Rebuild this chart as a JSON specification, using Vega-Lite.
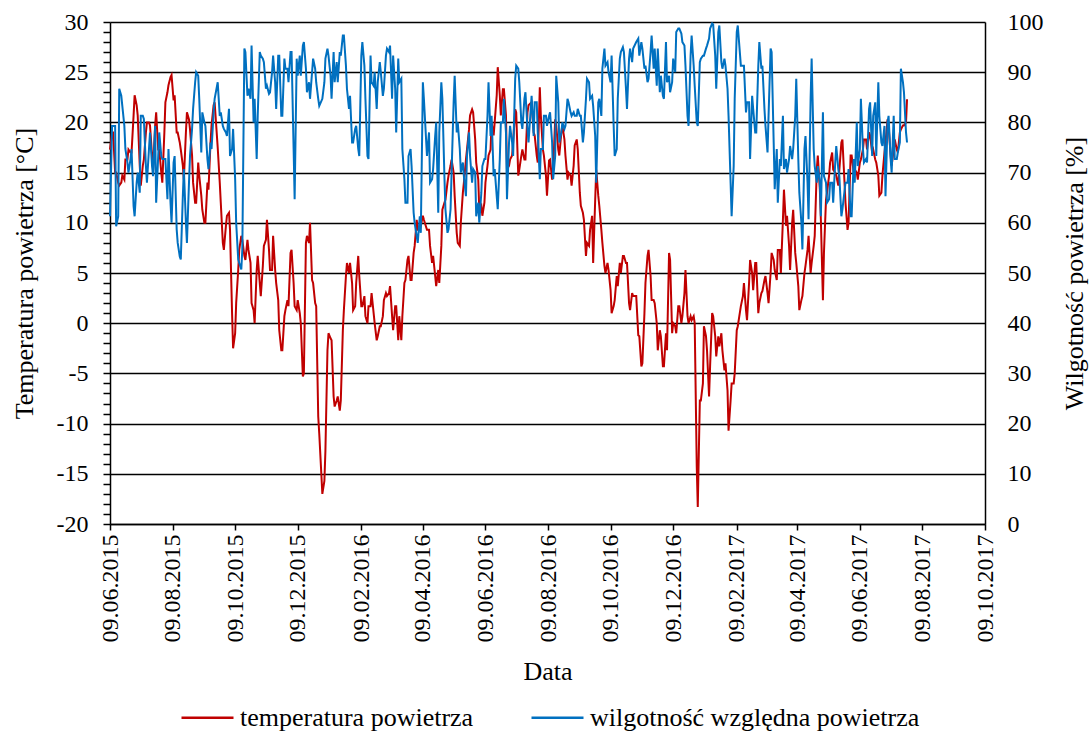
{
  "$schema": "https://vega.github.io/schema/vega-lite/v6.json",
  "width": 875,
  "height": 502,
  "autosize": {"type": "none"},
  "padding": {"left": 110, "top": 22, "right": 105, "bottom": 209},
  "background": "white",
  "config": {
    "font": "Liberation Serif",
    "view": {"stroke": null},
    "style": {
      "guide-label": {"font": "Liberation Serif", "fill": "black"},
      "guide-title": {"font": "Liberation Serif", "fill": "black"}
    },
    "axis": {
      "labelFont": "Liberation Serif",
      "titleFont": "Liberation Serif",
      "labelColor": "black",
      "titleColor": "black",
      "domainColor": "black",
      "tickColor": "black",
      "titleFontWeight": "normal",
      "labelFontSize": 24,
      "titleFontSize": 26,
      "domainWidth": 1.5,
      "tickWidth": 1.5
    },
    "legend": {"labelFont": "Liberation Serif", "padding": 0}
  },
  "data": {
    "values": [
      {"d":"2015-06-09","t":17.3,"h":61.3},{"d":"2015-06-12","t":19,"h":79.3},{"d":"2015-06-15","t":15,"h":59.3},{"d":"2015-06-18","t":13.7,"h":86.7},{"d":"2015-06-21","t":14.7,"h":83.3},{"d":"2015-06-24","t":16.3,"h":74.7},{"d":"2015-06-27","t":17.3,"h":70},{"d":"2015-06-30","t":17,"h":74.7},
      {"d":"2015-07-03","t":22.7,"h":61.3},{"d":"2015-07-06","t":20.7,"h":70},{"d":"2015-07-09","t":13.7,"h":81.3},{"d":"2015-07-12","t":16.3,"h":80.7},{"d":"2015-07-15","t":20,"h":68},{"d":"2015-07-18","t":19.7,"h":78},{"d":"2015-07-21","t":15.3,"h":69.3},{"d":"2015-07-24","t":21,"h":64},{"d":"2015-07-27","t":17.3,"h":78},{"d":"2015-07-30","t":14,"h":72.7},
      {"d":"2015-08-02","t":22,"h":72.7},{"d":"2015-08-05","t":23.7,"h":74.7},{"d":"2015-08-08","t":24.7,"h":60},{"d":"2015-08-11","t":22.7,"h":73.3},{"d":"2015-08-14","t":19,"h":56},{"d":"2015-08-17","t":17.3,"h":52.7},{"d":"2015-08-20","t":14.3,"h":70.7},{"d":"2015-08-23","t":21,"h":56},{"d":"2015-08-26","t":19.3,"h":73.3},{"d":"2015-08-29","t":14,"h":82.7},
      {"d":"2015-09-01","t":12,"h":90},{"d":"2015-09-04","t":14.7,"h":84.7},{"d":"2015-09-07","t":11.3,"h":82},{"d":"2015-09-10","t":10,"h":79.3},{"d":"2015-09-13","t":13.3,"h":70.7},{"d":"2015-09-16","t":19.7,"h":74.7},{"d":"2015-09-19","t":22,"h":84.7},{"d":"2015-09-22","t":17.5,"h":88},{"d":"2015-09-25","t":12,"h":82},{"d":"2015-09-28","t":7.3,"h":78.7},
      {"d":"2015-10-01","t":10.7,"h":77.3},{"d":"2015-10-04","t":9.3,"h":73.3},{"d":"2015-10-07","t":-2.5,"h":78.7},{"d":"2015-10-10","t":2,"h":60},{"d":"2015-10-13","t":7.3,"h":52},{"d":"2015-10-16","t":8.3,"h":54.7},{"d":"2015-10-19","t":6.3,"h":94},{"d":"2015-10-22","t":7.3,"h":86.7},{"d":"2015-10-25","t":2,"h":95.3},{"d":"2015-10-28","t":0,"h":84.7},{"d":"2015-10-31","t":6.7,"h":81.3},
      {"d":"2015-11-03","t":2.7,"h":93.3},{"d":"2015-11-06","t":7.7,"h":92},{"d":"2015-11-09","t":10.3,"h":87.3},{"d":"2015-11-12","t":5.3,"h":86},{"d":"2015-11-15","t":8.7,"h":93.3},{"d":"2015-11-18","t":4,"h":82.7},{"d":"2015-11-21","t":-0.7,"h":93.3},{"d":"2015-11-24","t":-2.7,"h":81.3},{"d":"2015-11-27","t":1.3,"h":90.7},{"d":"2015-11-30","t":1.7,"h":88},
      {"d":"2015-12-03","t":7.3,"h":94},{"d":"2015-12-06","t":1.7,"h":64.7},{"d":"2015-12-09","t":2.3,"h":89.3},{"d":"2015-12-12","t":0,"h":89.3},{"d":"2015-12-15","t":-5,"h":96},{"d":"2015-12-18","t":8.7,"h":86},{"d":"2015-12-21","t":10,"h":84.7},{"d":"2015-12-24","t":4,"h":92.7},{"d":"2015-12-27","t":1.7,"h":88},{"d":"2015-12-30","t":-11,"h":83.3},
      {"d":"2016-01-02","t":-17,"h":84.7},{"d":"2016-01-05","t":-12.7,"h":92.7},{"d":"2016-01-08","t":-1,"h":93.3},{"d":"2016-01-11","t":-1.7,"h":84.7},{"d":"2016-01-14","t":-8.3,"h":88},{"d":"2016-01-17","t":-7.3,"h":88},{"d":"2016-01-20","t":-7.7,"h":93.3},{"d":"2016-01-23","t":1.3,"h":97.3},{"d":"2016-01-26","t":6,"h":86.7},{"d":"2016-01-29","t":6,"h":85.3},
      {"d":"2016-02-01","t":1.3,"h":76},{"d":"2016-02-04","t":4,"h":79.3},{"d":"2016-02-07","t":4.7,"h":73.3},{"d":"2016-02-10","t":1.7,"h":96},{"d":"2016-02-13","t":0.7,"h":84.7},{"d":"2016-02-16","t":1.7,"h":72.7},{"d":"2016-02-19","t":3,"h":88},{"d":"2016-02-22","t":0,"h":90},{"d":"2016-02-25","t":-1.3,"h":88},{"d":"2016-02-28","t":-0.3,"h":90},
      {"d":"2016-03-02","t":2.3,"h":86.7},{"d":"2016-03-05","t":2.7,"h":94.7},{"d":"2016-03-08","t":3.7,"h":95.3},{"d":"2016-03-11","t":-0.7,"h":93.3},{"d":"2016-03-14","t":1.7,"h":78},{"d":"2016-03-17","t":0.7,"h":88},{"d":"2016-03-20","t":0.7,"h":74.7},{"d":"2016-03-23","t":4.3,"h":64},{"d":"2016-03-26","t":6.7,"h":73.3},{"d":"2016-03-29","t":4.3,"h":71.3},
      {"d":"2016-04-01","t":7.7,"h":60},{"d":"2016-04-04","t":9.3,"h":56},{"d":"2016-04-07","t":9.7,"h":58},{"d":"2016-04-10","t":10.3,"h":84.7},{"d":"2016-04-13","t":9.3,"h":73.3},{"d":"2016-04-16","t":7.7,"h":68},{"d":"2016-04-19","t":6.7,"h":70.7},{"d":"2016-04-22","t":3.7,"h":80},{"d":"2016-04-25","t":4,"h":78},{"d":"2016-04-28","t":11.3,"h":84.7},
      {"d":"2016-05-01","t":12.3,"h":62.7},{"d":"2016-05-04","t":14.7,"h":58.7},{"d":"2016-05-07","t":16.3,"h":70},{"d":"2016-05-10","t":12.7,"h":89.3},{"d":"2016-05-13","t":8,"h":80},{"d":"2016-05-16","t":10,"h":70},{"d":"2016-05-19","t":14,"h":69.3},{"d":"2016-05-22","t":17.3,"h":73.3},{"d":"2016-05-25","t":20.7,"h":73.3},{"d":"2016-05-28","t":21,"h":70.7},{"d":"2016-05-31","t":16,"h":61.3},
      {"d":"2016-06-03","t":11.3,"h":60},{"d":"2016-06-06","t":10.7,"h":71.3},{"d":"2016-06-09","t":14,"h":72.7},{"d":"2016-06-12","t":16.7,"h":88},{"d":"2016-06-15","t":20,"h":81.3},{"d":"2016-06-18","t":20,"h":70.7},{"d":"2016-06-21","t":25.5,"h":62.7},{"d":"2016-06-24","t":20.7,"h":80},{"d":"2016-06-27","t":23.3,"h":84.7},{"d":"2016-06-30","t":15.3,"h":64.7},
      {"d":"2016-07-03","t":16.3,"h":79.3},{"d":"2016-07-06","t":18,"h":73.3},{"d":"2016-07-09","t":21,"h":91.3},{"d":"2016-07-12","t":15.3,"h":88},{"d":"2016-07-15","t":17.3,"h":78.7},{"d":"2016-07-18","t":16.3,"h":86},{"d":"2016-07-21","t":21.7,"h":76},{"d":"2016-07-24","t":22,"h":85.3},{"d":"2016-07-27","t":18.7,"h":84},{"d":"2016-07-30","t":16,"h":78},
      {"d":"2016-08-02","t":20.7,"h":74.7},{"d":"2016-08-05","t":16.7,"h":81.3},{"d":"2016-08-08","t":12.7,"h":79.3},{"d":"2016-08-11","t":16.3,"h":82},{"d":"2016-08-14","t":15.3,"h":68.7},{"d":"2016-08-17","t":19.7,"h":89.3},{"d":"2016-08-20","t":16.7,"h":76},{"d":"2016-08-23","t":19.7,"h":80},{"d":"2016-08-26","t":16.7,"h":79.3},{"d":"2016-08-29","t":15,"h":84},
      {"d":"2016-09-01","t":13.7,"h":81.3},{"d":"2016-09-04","t":17.7,"h":81.3},{"d":"2016-09-07","t":17.3,"h":82.7},{"d":"2016-09-10","t":11.7,"h":81.3},{"d":"2016-09-13","t":10.3,"h":78},{"d":"2016-09-16","t":8,"h":88.7},{"d":"2016-09-19","t":9.3,"h":84.7},{"d":"2016-09-22","t":6,"h":83.3},{"d":"2016-09-25","t":15.3,"h":68},{"d":"2016-09-28","t":11.7,"h":84.7},
      {"d":"2016-10-01","t":8,"h":90.7},{"d":"2016-10-04","t":5,"h":91.3},{"d":"2016-10-07","t":5.3,"h":90},{"d":"2016-10-10","t":1,"h":93.3},{"d":"2016-10-13","t":2.3,"h":73.3},{"d":"2016-10-16","t":3.7,"h":84.7},{"d":"2016-10-19","t":5,"h":94},{"d":"2016-10-22","t":6.7,"h":94},{"d":"2016-10-25","t":6,"h":82.7},{"d":"2016-10-28","t":1.3,"h":94.7},{"d":"2016-10-31","t":2.7,"h":94.7},
      {"d":"2016-11-03","t":2.7,"h":96},{"d":"2016-11-06","t":-1.3,"h":93.3},{"d":"2016-11-09","t":-4,"h":94.7},{"d":"2016-11-12","t":4,"h":91.3},{"d":"2016-11-15","t":7.3,"h":88.7},{"d":"2016-11-18","t":2.3,"h":97.3},{"d":"2016-11-21","t":2,"h":94.7},{"d":"2016-11-24","t":-2.7,"h":94.7},{"d":"2016-11-27","t":-1.3,"h":89.3},{"d":"2016-11-30","t":-4.3,"h":84.7},
      {"d":"2016-12-03","t":-2.7,"h":88},{"d":"2016-12-06","t":6.3,"h":86},{"d":"2016-12-09","t":0,"h":92.7},{"d":"2016-12-12","t":-1,"h":98},{"d":"2016-12-15","t":1.7,"h":98.7},{"d":"2016-12-18","t":0.7,"h":96},{"d":"2016-12-21","t":5.3,"h":91.3},{"d":"2016-12-24","t":0,"h":79.3},{"d":"2016-12-27","t":0.3,"h":97.3},{"d":"2016-12-30","t":0,"h":87.3},
      {"d":"2017-01-02","t":-18.3,"h":79.3},{"d":"2017-01-05","t":-7.7,"h":92.7},{"d":"2017-01-08","t":-0.3,"h":93.3},{"d":"2017-01-11","t":-2.7,"h":95.3},{"d":"2017-01-14","t":-4.3,"h":98.7},{"d":"2017-01-17","t":0.7,"h":99.5},{"d":"2017-01-20","t":-3.3,"h":86.7},{"d":"2017-01-23","t":-2.3,"h":99.3},{"d":"2017-01-26","t":-2.7,"h":90.7},{"d":"2017-01-29","t":-4,"h":91.3},
      {"d":"2017-02-01","t":-10.7,"h":81.3},{"d":"2017-02-04","t":-6,"h":61.3},{"d":"2017-02-07","t":-5,"h":84.7},{"d":"2017-02-10","t":-0.3,"h":99.3},{"d":"2017-02-13","t":1.7,"h":91.3},{"d":"2017-02-16","t":4,"h":91.3},{"d":"2017-02-19","t":0.3,"h":84},{"d":"2017-02-22","t":6.3,"h":72.7},{"d":"2017-02-25","t":3.3,"h":82.7},{"d":"2017-02-28","t":6,"h":78},
      {"d":"2017-03-03","t":2,"h":96},{"d":"2017-03-06","t":3.2,"h":91.3},{"d":"2017-03-09","t":4.7,"h":79.3},{"d":"2017-03-12","t":2,"h":81.3},{"d":"2017-03-15","t":7,"h":94},{"d":"2017-03-18","t":5.3,"h":66.7},{"d":"2017-03-21","t":7.3,"h":64},{"d":"2017-03-24","t":5,"h":71.3},{"d":"2017-03-27","t":13.3,"h":70.7},{"d":"2017-03-30","t":10.7,"h":70},
      {"d":"2017-04-02","t":5.3,"h":75.3},{"d":"2017-04-05","t":11.3,"h":74.7},{"d":"2017-04-08","t":6,"h":88.7},{"d":"2017-04-11","t":1.3,"h":66},{"d":"2017-04-14","t":2.7,"h":54.7},{"d":"2017-04-17","t":5.7,"h":77.3},{"d":"2017-04-20","t":8.7,"h":60.7},{"d":"2017-04-23","t":6,"h":92.7},{"d":"2017-04-26","t":8.7,"h":71.3},{"d":"2017-04-29","t":16.7,"h":71.3},
      {"d":"2017-05-02","t":10.3,"h":61.3},{"d":"2017-05-05","t":7,"h":69.3},{"d":"2017-05-08","t":13,"h":64},{"d":"2017-05-11","t":16,"h":68},{"d":"2017-05-14","t":15.3,"h":64},{"d":"2017-05-17","t":14.7,"h":75.3},{"d":"2017-05-20","t":15.3,"h":69.3},{"d":"2017-05-23","t":18.3,"h":62.7},{"d":"2017-05-26","t":12,"h":68},{"d":"2017-05-29","t":10,"h":70.7},
      {"d":"2017-06-01","t":16.7,"h":61.3},{"d":"2017-06-04","t":15.3,"h":68},{"d":"2017-06-07","t":14.3,"h":71.3},{"d":"2017-06-10","t":16.3,"h":84.7},{"d":"2017-06-13","t":18.3,"h":72},{"d":"2017-06-16","t":17.3,"h":72},{"d":"2017-06-19","t":18.7,"h":84},{"d":"2017-06-22","t":17.3,"h":81.3},{"d":"2017-06-25","t":16,"h":73.3},{"d":"2017-06-28","t":12.7,"h":81.3},
      {"d":"2017-07-01","t":14.7,"h":75.3},{"d":"2017-07-04","t":18,"h":65.3},{"d":"2017-07-07","t":19.7,"h":81.3},{"d":"2017-07-10","t":15.7,"h":70},{"d":"2017-07-13","t":18.3,"h":72.7},{"d":"2017-07-16","t":17,"h":74},{"d":"2017-07-19","t":19.3,"h":90.7},{"d":"2017-07-22","t":19.7,"h":86},{"d":"2017-07-25","t":22.3,"h":76},

      {"d":"2015-06-11","t":19,"h":79.3},{"d":"2015-06-14","t":15,"h":79.3},{"d":"2015-06-17","t":14,"h":61.3},{"d":"2015-06-20","t":14,"h":85.3},{"d":"2015-06-23","t":14.3,"h":79.3},{"d":"2015-06-26","t":16.3,"h":72},{"d":"2015-06-29","t":17,"h":72.7},{"d":"2015-07-02","t":20.7,"h":63.3},{"d":"2015-07-05","t":21.7,"h":68},{"d":"2015-07-08","t":15.7,"h":66},{"d":"2015-07-11","t":15.7,"h":81.3},{"d":"2015-07-14","t":19,"h":71.3},{"d":"2015-07-17","t":20,"h":74.7},{"d":"2015-07-20","t":16.7,"h":71.3},{"d":"2015-07-23","t":19.7,"h":79.3},{"d":"2015-07-26","t":17.3,"h":73.3},{"d":"2015-07-29","t":15,"h":73.3},{"d":"2015-08-01","t":19,"h":72.7},{"d":"2015-08-04","t":23,"h":64.7},{"d":"2015-08-07","t":24.5,"h":64},{"d":"2015-08-10","t":22.2,"h":72},{"d":"2015-08-13","t":19,"h":58.7},{"d":"2015-08-16","t":18,"h":53.3},{"d":"2015-08-19","t":15.7,"h":65.3},{"d":"2015-08-22","t":19,"h":60},{"d":"2015-08-25","t":20.3,"h":68},{"d":"2015-08-28","t":16.7,"h":78.7},{"d":"2015-08-31","t":12,"h":88},{"d":"2015-09-03","t":16,"h":89.3},{"d":"2015-09-06","t":12.7,"h":74},{"d":"2015-09-09","t":10,"h":80},{"d":"2015-09-12","t":14,"h":72.7},{"d":"2015-09-15","t":18,"h":76},{"d":"2015-09-18","t":21.7,"h":82},
      {"d":"2015-09-24","t":14,"h":81.3},{"d":"2015-09-27","t":8,"h":79.3},{"d":"2015-09-30","t":9.7,"h":78},{"d":"2015-10-03","t":11,"h":82.7},{"d":"2015-10-06","t":1,"h":74.7},{"d":"2015-10-09","t":-1,"h":68.7},{"d":"2015-10-12","t":5.3,"h":52.7},{"d":"2015-10-15","t":8.7,"h":50.7},{"d":"2015-10-18","t":6.7,"h":94.7},{"d":"2015-10-21","t":8.3,"h":85.3},{"d":"2015-10-24","t":6,"h":84.7},{"d":"2015-10-27","t":1.3,"h":80},{"d":"2015-10-30","t":5.3,"h":72.7},{"d":"2015-11-02","t":4,"h":94},{"d":"2015-11-05","t":5.7,"h":92.7},{"d":"2015-11-08","t":8.3,"h":86.7},{"d":"2015-11-11","t":7.3,"h":85.7},{"d":"2015-11-14","t":5.3,"h":90},{"d":"2015-11-17","t":5.3,"h":88},{"d":"2015-11-20","t":2.3,"h":93.3},{"d":"2015-11-23","t":-2.7,"h":81.3},{"d":"2015-11-26","t":0.7,"h":92.7},{"d":"2015-11-29","t":2.3,"h":90.7},{"d":"2015-12-02","t":7,"h":94},{"d":"2015-12-05","t":4,"h":74.7},{"d":"2015-12-08","t":1.3,"h":92.7},{"d":"2015-12-11","t":1,"h":93.3},{"d":"2015-12-14","t":-5.3,"h":95.3},{"d":"2015-12-17","t":8,"h":90.7},{"d":"2015-12-20","t":8,"h":88},{"d":"2015-12-23","t":4.3,"h":90},{"d":"2015-12-26","t":2,"h":90.7},{"d":"2015-12-29","t":-9.3,"h":84.7},
      {"d":"2016-01-04","t":-15.7,"h":88},{"d":"2016-01-07","t":-2.7,"h":94.7},{"d":"2016-01-10","t":-1.5,"h":89.3},{"d":"2016-01-13","t":-7.3,"h":94},{"d":"2016-01-16","t":-7.7,"h":92},{"d":"2016-01-19","t":-8.7,"h":94},{"d":"2016-01-22","t":-0.7,"h":97.3},{"d":"2016-01-25","t":4.7,"h":91.3},{"d":"2016-01-28","t":5,"h":82.7},{"d":"2016-01-31","t":4,"h":76},{"d":"2016-02-03","t":1.7,"h":78.7},{"d":"2016-02-06","t":6.7,"h":74.7},{"d":"2016-02-09","t":1.7,"h":93.3},{"d":"2016-02-12","t":2.7,"h":91.3},{"d":"2016-02-15","t":0,"h":73.3},{"d":"2016-02-18","t":1.7,"h":93.3},{"d":"2016-02-21","t":1,"h":87.3},{"d":"2016-02-24","t":-1.7,"h":82.7},{"d":"2016-02-27","t":-0.3,"h":92},{"d":"2016-03-01","t":0.7,"h":85.3},{"d":"2016-03-04","t":3,"h":93.3},{"d":"2016-03-07","t":3,"h":94},{"d":"2016-03-10","t":0.7,"h":84.7},{"d":"2016-03-13","t":1.7,"h":86.7},{"d":"2016-03-16","t":-1.7,"h":92.7},{"d":"2016-03-19","t":-1.7,"h":88.7},{"d":"2016-03-22","t":4,"h":68.7},{"d":"2016-03-25","t":6.3,"h":64},{"d":"2016-03-28","t":4.3,"h":74.7},{"d":"2016-03-31","t":7,"h":62},{"d":"2016-04-03","t":10.3,"h":57.3},{"d":"2016-04-06","t":9.3,"h":61.3},{"d":"2016-04-09","t":10.7,"h":88},
      {"d":"2016-04-15","t":9.3,"h":78},{"d":"2016-04-18","t":6,"h":68.7},{"d":"2016-04-21","t":4.7,"h":77.3},{"d":"2016-04-24","t":5.3,"h":62},{"d":"2016-04-27","t":7.7,"h":88},{"d":"2016-04-30","t":12,"h":69.3},{"d":"2016-05-03","t":14,"h":58},{"d":"2016-05-06","t":15.7,"h":62.7},{"d":"2016-05-09","t":15,"h":84},{"d":"2016-05-12","t":9,"h":78},{"d":"2016-05-15","t":7.7,"h":74.7},{"d":"2016-05-18","t":13,"h":72},{"d":"2016-05-21","t":16.3,"h":65.3},{"d":"2016-05-24","t":19.3,"h":78},{"d":"2016-05-27","t":21.3,"h":68},{"d":"2016-05-30","t":18.3,"h":70},{"d":"2016-06-02","t":14.3,"h":64},{"d":"2016-06-05","t":11.7,"h":66},{"d":"2016-06-08","t":12,"h":72.7},{"d":"2016-06-11","t":15.7,"h":81.3},{"d":"2016-06-14","t":17.3,"h":77.3},{"d":"2016-06-17","t":18.7,"h":69.3},{"d":"2016-06-20","t":22.7,"h":65.3},{"d":"2016-06-23","t":22.7,"h":72.7},{"d":"2016-06-26","t":23.3,"h":80},{"d":"2016-06-29","t":20.7,"h":78},{"d":"2016-07-02","t":15.7,"h":76},{"d":"2016-07-05","t":16.7,"h":76},{"d":"2016-07-08","t":21.3,"h":88.7},{"d":"2016-07-11","t":14.7,"h":90.7},{"d":"2016-07-14","t":16.7,"h":80},{"d":"2016-07-17","t":16.3,"h":84.7},{"d":"2016-07-20","t":21,"h":78.7},
      {"d":"2016-07-26","t":19,"h":77.3},{"d":"2016-07-29","t":16.7,"h":84},{"d":"2016-08-01","t":23.5,"h":68.7},{"d":"2016-08-04","t":17.3,"h":74.7},{"d":"2016-08-07","t":14.7,"h":81.3},{"d":"2016-08-10","t":16.2,"h":81.3},{"d":"2016-08-13","t":14.3,"h":76},{"d":"2016-08-16","t":20.3,"h":73.3},{"d":"2016-08-19","t":17.3,"h":84},{"d":"2016-08-22","t":19,"h":78},{"d":"2016-08-25","t":18.3,"h":78.7},{"d":"2016-08-28","t":14.3,"h":84.7},{"d":"2016-08-31","t":14.7,"h":82},{"d":"2016-09-03","t":15.7,"h":82},{"d":"2016-09-06","t":18.3,"h":81.3},{"d":"2016-09-09","t":13,"h":81.3},{"d":"2016-09-12","t":11,"h":76},{"d":"2016-09-15","t":6.7,"h":84.7},{"d":"2016-09-18","t":7.7,"h":88},{"d":"2016-09-21","t":10.7,"h":85.3},{"d":"2016-09-24","t":12.3,"h":77.3},{"d":"2016-09-27","t":12.7,"h":84},{"d":"2016-09-30","t":9.3,"h":81.3},{"d":"2016-10-03","t":5.7,"h":94.7},{"d":"2016-10-06","t":6,"h":92},{"d":"2016-10-09","t":3.3,"h":88},{"d":"2016-10-12","t":1.7,"h":79.3},{"d":"2016-10-15","t":4.7,"h":74.7},{"d":"2016-10-18","t":6,"h":92.7},{"d":"2016-10-21","t":6.7,"h":95},{"d":"2016-10-24","t":6,"h":86.7},{"d":"2016-10-27","t":2,"h":92.7},{"d":"2016-10-30","t":3,"h":92},
      {"d":"2016-11-05","t":-1.2,"h":96.7},{"d":"2016-11-08","t":-4.3,"h":96},{"d":"2016-11-11","t":1,"h":90.7},{"d":"2016-11-14","t":6.7,"h":88},{"d":"2016-11-17","t":4.7,"h":94},{"d":"2016-11-20","t":2.3,"h":90.7},{"d":"2016-11-23","t":0,"h":87.3},{"d":"2016-11-26","t":-0.7,"h":86},{"d":"2016-11-29","t":-4.3,"h":85.3},{"d":"2016-12-02","t":-1,"h":96},{"d":"2016-12-05","t":7,"h":89.3},{"d":"2016-12-08","t":-1,"h":88},{"d":"2016-12-11","t":-0.3,"h":90},{"d":"2016-12-14","t":1.7,"h":98.7},{"d":"2016-12-17","t":0,"h":97.7},{"d":"2016-12-20","t":3,"h":95.3},{"d":"2016-12-23","t":0.7,"h":81.3},{"d":"2016-12-26","t":0.7,"h":93.3},{"d":"2016-12-29","t":0.7,"h":91.3},{"d":"2017-01-01","t":-14.3,"h":80},{"d":"2017-01-04","t":-7.7,"h":92},{"d":"2017-01-07","t":-6,"h":93.3},{"d":"2017-01-10","t":-1.3,"h":94.7},{"d":"2017-01-13","t":-7.3,"h":96.7},{"d":"2017-01-16","t":1,"h":99.7},{"d":"2017-01-19","t":-1.3,"h":93.3},{"d":"2017-01-22","t":-1.3,"h":98},{"d":"2017-01-25","t":-1,"h":92},{"d":"2017-01-28","t":-4.7,"h":92.7},{"d":"2017-01-31","t":-6.7,"h":86.7},{"d":"2017-02-03","t":-7.7,"h":68},{"d":"2017-02-06","t":-6,"h":71.3},{"d":"2017-02-09","t":-0.7,"h":98},
      {"d":"2017-02-15","t":2.7,"h":91.3},{"d":"2017-02-18","t":1.3,"h":82},{"d":"2017-02-21","t":4,"h":84},{"d":"2017-02-24","t":5,"h":85.3},{"d":"2017-02-27","t":6,"h":78},{"d":"2017-03-02","t":1,"h":91.3},{"d":"2017-03-05","t":3,"h":90.7},{"d":"2017-03-08","t":4.3,"h":82.7},{"d":"2017-03-11","t":3,"h":74},{"d":"2017-03-14","t":5,"h":94.7},{"d":"2017-03-17","t":6.3,"h":76},{"d":"2017-03-20","t":4.3,"h":74.7},{"d":"2017-03-23","t":7.3,"h":72.7},{"d":"2017-03-26","t":10.3,"h":81.3},{"d":"2017-03-29","t":9.7,"h":72.7},{"d":"2017-04-01","t":7.7,"h":72.7},{"d":"2017-04-04","t":10,"h":72.7},{"d":"2017-04-07","t":7,"h":81.3},{"d":"2017-04-10","t":3.7,"h":72.7},{"d":"2017-04-13","t":2.3,"h":60},{"d":"2017-04-16","t":5,"h":74.7},{"d":"2017-04-19","t":7.3,"h":68},{"d":"2017-04-22","t":5,"h":84.7},{"d":"2017-04-25","t":7.7,"h":74.7},{"d":"2017-04-28","t":15.3,"h":68},{"d":"2017-05-01","t":13.3,"h":68},{"d":"2017-05-04","t":2.3,"h":82},{"d":"2017-05-07","t":12.3,"h":68},{"d":"2017-05-10","t":14.7,"h":64.7},{"d":"2017-05-13","t":17,"h":68},{"d":"2017-05-16","t":15,"h":72},{"d":"2017-05-19","t":13.7,"h":70.7},{"d":"2017-05-22","t":18,"h":61.3},
      {"d":"2017-05-28","t":9.3,"h":68},{"d":"2017-05-31","t":16.7,"h":61.3},{"d":"2017-06-03","t":15,"h":72.7},{"d":"2017-06-06","t":15,"h":80},{"d":"2017-06-09","t":16,"h":74.7},{"d":"2017-06-12","t":17.3,"h":74.7},{"d":"2017-06-15","t":18.3,"h":72.7},{"d":"2017-06-18","t":19,"h":82.7},{"d":"2017-06-21","t":17,"h":73.3},{"d":"2017-06-24","t":16.3,"h":84},{"d":"2017-06-27","t":14.7,"h":88},{"d":"2017-06-30","t":13,"h":76},{"d":"2017-07-03","t":17,"h":79.3},{"d":"2017-07-06","t":20.3,"h":80},{"d":"2017-07-09","t":16.7,"h":72.7},{"d":"2017-07-12","t":17.3,"h":81.3},{"d":"2017-07-15","t":17.3,"h":72.7},{"d":"2017-07-18","t":19,"h":76},{"d":"2017-07-21","t":19.7,"h":88},{"d":"2017-07-24","t":20,"h":78}
    ]
  },
  "layer": [
    {
      "transform": [{"filter": {"field": "t", "valid": true}}],
      "mark": {"type": "line", "strokeWidth": 2, "color": "#C00000"},
      "encoding": {
        "x": {
          "field": "d",
          "type": "temporal",
          "scale": {"type": "utc", "domain": [{"year": 2015, "month": 6, "date": 9, "utc": true}, {"year": 2017, "month": 10, "date": 9, "utc": true}]},
          "axis": {
            "title": "Data",
            "values": [
              {"year":2015,"month":6,"date":9,"utc":true},{"year":2015,"month":7,"date":9,"utc":true},{"year":2015,"month":8,"date":9,"utc":true},{"year":2015,"month":9,"date":9,"utc":true},{"year":2015,"month":10,"date":9,"utc":true},{"year":2015,"month":11,"date":9,"utc":true},{"year":2015,"month":12,"date":9,"utc":true},
              {"year":2016,"month":1,"date":9,"utc":true},{"year":2016,"month":2,"date":9,"utc":true},{"year":2016,"month":3,"date":9,"utc":true},{"year":2016,"month":4,"date":9,"utc":true},{"year":2016,"month":5,"date":9,"utc":true},{"year":2016,"month":6,"date":9,"utc":true},{"year":2016,"month":7,"date":9,"utc":true},{"year":2016,"month":8,"date":9,"utc":true},{"year":2016,"month":9,"date":9,"utc":true},{"year":2016,"month":10,"date":9,"utc":true},{"year":2016,"month":11,"date":9,"utc":true},{"year":2016,"month":12,"date":9,"utc":true},
              {"year":2017,"month":1,"date":9,"utc":true},{"year":2017,"month":2,"date":9,"utc":true},{"year":2017,"month":3,"date":9,"utc":true},{"year":2017,"month":4,"date":9,"utc":true},{"year":2017,"month":5,"date":9,"utc":true},{"year":2017,"month":6,"date":9,"utc":true},{"year":2017,"month":7,"date":9,"utc":true},{"year":2017,"month":8,"date":9,"utc":true},{"year":2017,"month":9,"date":9,"utc":true},{"year":2017,"month":10,"date":9,"utc":true}
            ],
            "labelExpr": "utcmonth(datum.value) % 2 == 1 ? utcFormat(datum.value, '%d.%m.%Y') : ''",
            "labelFont": "Liberation Serif",
            "titleFont": "Liberation Serif",
            "labelAngle": 270,
            "labelAlign": "right",
            "labelBaseline": "middle",
            "labelPadding": 4,
            "labelOverlap": false,
            "labelFlush": false,
            "tickSize": 6,
            "grid": false,
            "titlePadding": 16
          }
        },
        "y": {
          "field": "t",
          "type": "quantitative",
          "scale": {"domain": [-20, 30], "nice": false, "zero": false},
          "axis": {
            "title": "Temperatura powietrza [°C]",
            "values": [-20,-19,-18,-17,-16,-15,-14,-13,-12,-11,-10,-9,-8,-7,-6,-5,-4,-3,-2,-1,0,1,2,3,4,5,6,7,8,9,10,11,12,13,14,15,16,17,18,19,20,21,22,23,24,25,26,27,28,29,30],
            "labelExpr": "datum.value % 5 === 0 ? '' + datum.value : ''",
            "labelFont": "Liberation Serif",
            "titleFont": "Liberation Serif",
            "labelOverlap": false,
            "labelFlush": false,
            "labelPadding": 15,
            "tickSize": 7,
            "grid": true,
            "gridColor": "black",
            "gridWidth": 1.5,
            "gridOpacity": {"condition": {"test": "datum.value % 5 === 0", "value": 1}, "value": 0},
            "titlePadding": 19
          }
        },
        "color": {
          "datum": "temperatura powietrza",
          "type": "nominal",
          "scale": {"domain": ["temperatura powietrza", "wilgotność względna powietrza"], "range": ["#C00000", "#0070C0"]},
          "legend": {
            "title": null,
            "orient": "none",
            "legendX": 70,
            "legendY": 668,
            "direction": "horizontal",
            "symbolType": "stroke",
            "symbolSize": 2704,
            "symbolStrokeWidth": 2.5,
            "labelFont": "Liberation Serif",
            "labelFontSize": 26,
            "labelColor": "black",
            "labelOffset": 5,
            "labelLimit": 0,
            "columnPadding": 52,
            "padding": 0
          }
        }
      }
    },
    {
      "transform": [{"filter": {"field": "h", "valid": true}}],
      "mark": {"type": "line", "strokeWidth": 2, "color": "#0070C0"},
      "encoding": {
        "x": {"field": "d", "type": "temporal"},
        "y": {
          "field": "h",
          "type": "quantitative",
          "scale": {"domain": [0, 100], "nice": false},
          "axis": {
            "orient": "right",
            "title": "Wilgotność powietrza [%]",
            "values": [0,10,20,30,40,50,60,70,80,90,100],
            "labelFont": "Liberation Serif",
            "titleFont": "Liberation Serif",
            "grid": false,
            "ticks": false,
            "tickSize": 0,
            "labelPadding": 22,
            "labelFlush": false,
            "labelOverlap": false,
            "titleAngle": 270,
            "titleBaseline": "top",
            "titlePadding": 18
          }
        },
        "color": {"datum": "wilgotność względna powietrza", "type": "nominal"}
      }
    }
  ],
  "resolve": {"scale": {"y": "independent"}}
}
